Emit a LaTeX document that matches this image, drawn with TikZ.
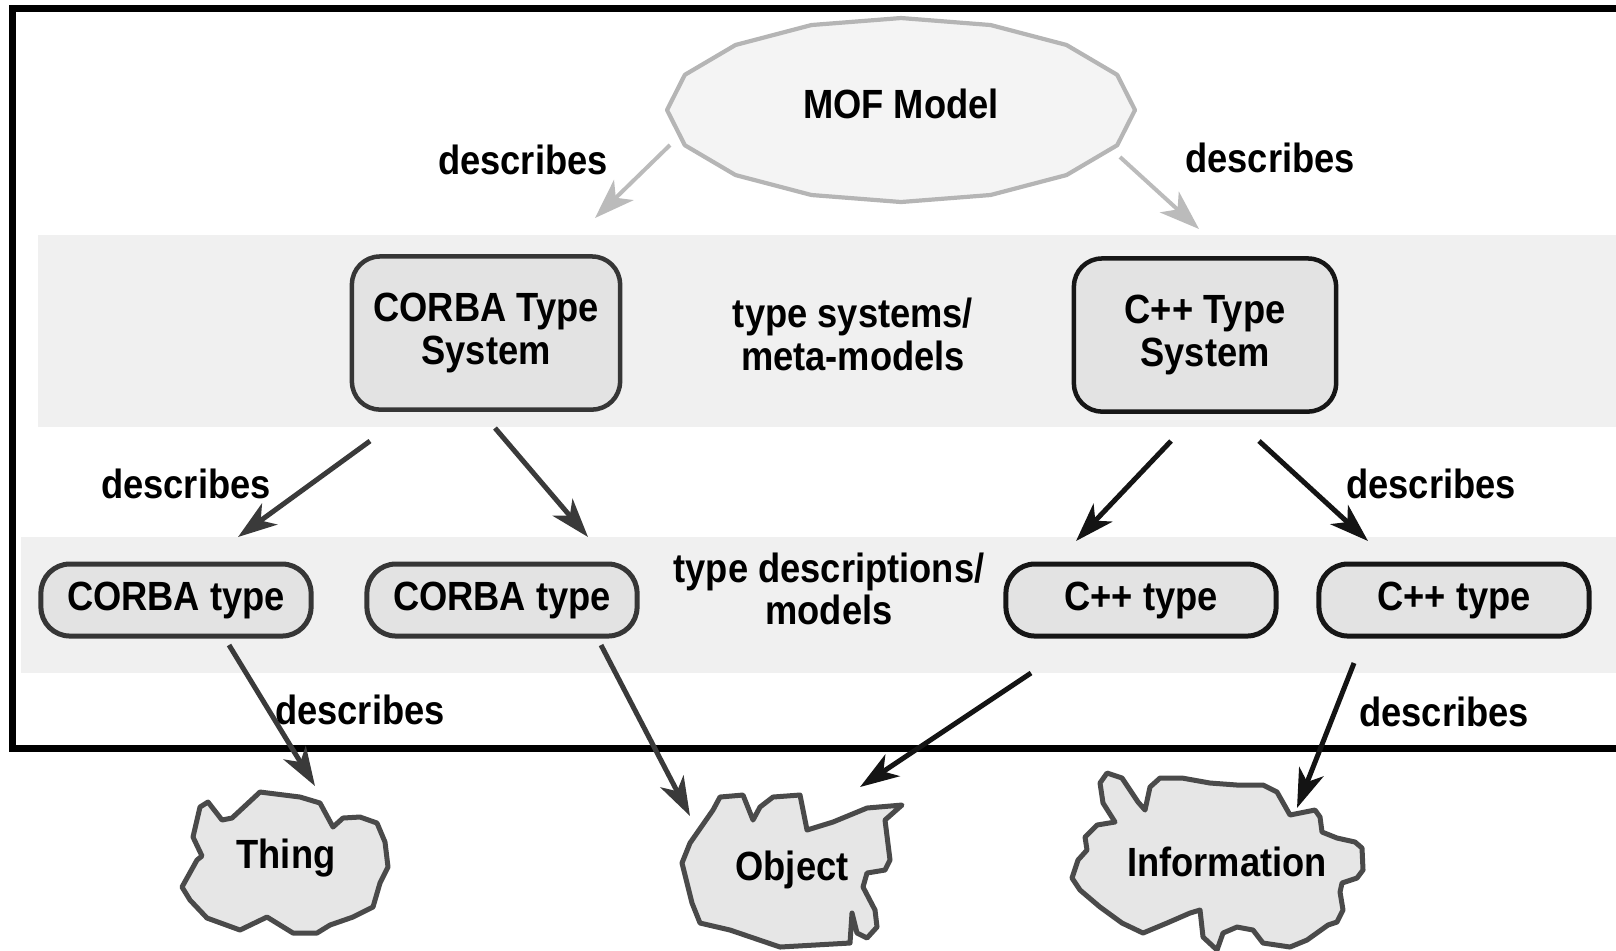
\documentclass[tikz,border=0pt]{standalone}
\usepackage{fontspec}
\newfontfamily\dfont{Liberation Sans}[FakeStretch=0.89]
\usetikzlibrary{arrows.meta,calc}

\definecolor{bandgray}{HTML}{F0F0F0}
\definecolor{mofgray}{HTML}{F4F4F4}
\definecolor{mofline}{HTML}{B5B5B5}
\definecolor{metaarrow}{HTML}{BBBBBB}
\definecolor{boxfill}{HTML}{E3E3E3}
\definecolor{corbaline}{HTML}{363636}
\definecolor{cppline}{HTML}{161616}
\definecolor{corbaarrow}{HTML}{3A3A3A}
\definecolor{cpparrow}{HTML}{141414}
\definecolor{cloudline}{HTML}{4A4A4A}
\definecolor{cloudfill}{HTML}{E6E6E6}

\begin{document}
\begin{tikzpicture}[x=0.01cm,y=-0.01cm,
  lbl/.style={font=\dfont\bfseries\fontsize{11.6}{12.2}\selectfont,
              inner sep=0pt, align=center, text=black},
  typesys/.style={lbl, rectangle, rounded corners=2.8mm,
              minimum height=1.53cm, line width=0.45mm, fill=boxfill},
  pill/.style={lbl, rectangle, rounded corners=2.9mm,
              minimum width=2.7cm, minimum height=0.72cm,
              line width=0.5mm, fill=boxfill},
  cloud/.style={draw=cloudline, fill=cloudfill, line width=0.5mm,
              line join=round},
  metaarr/.style={draw=metaarrow, line width=0.4mm,
              -{Stealth[length=4mm,width=2.8mm,inset=1.1mm]}},
  arr/.style={line width=0.5mm,
              -{Stealth[length=3.9mm,width=2.6mm,inset=1.1mm]}},
  corba/.style={arr, draw=corbaarrow, color=corbaarrow},
  cpp/.style={arr, draw=cpparrow, color=cpparrow}
]
\clip (0,0) rectangle (1616,950);

% layer bands
\fill[bandgray] (38,235) rectangle (1640,427);
\fill[bandgray] (21,537) rectangle (1640,673);

% enclosing frame (open to the right)
\draw[line width=0.7mm] (1660,8.5) -- (12.5,8.5) -- (12.5,748.5) -- (1660,748.5);

% MOF model
\draw[draw=mofline, fill=mofgray, line width=0.42mm, line join=round]
  plot[samples=17, domain=0:360] ({901+234*cos(\x)},{110+92*sin(\x)}) -- cycle;
\node[lbl] (mof) at (901,104) {MOF Model};

% type systems
\node[typesys, draw=corbaline, minimum width=2.68cm] (cts) at (486,333) {CORBA Type\\System};
\node[typesys, draw=cppline, minimum width=2.62cm] (cpts) at (1205,335) {C++ Type\\System};
\node[lbl] (tsys) at (853,334) {type systems/\\meta-models};

% type descriptions
\node[pill, draw=corbaline] (ct1) at (176,600) {CORBA type};
\node[pill, draw=corbaline] (ct2) at (502,600) {CORBA type};
\node[pill, draw=cppline] (cp1) at (1141,600) {C++ type};
\node[pill, draw=cppline] (cp2) at (1454,600) {C++ type};
\node[lbl, font=\dfont\bfseries\fontsize{11.6}{10.5}\selectfont]
  (tdesc) at (829,589) {type descriptions/\\models};

% real-world clouds
\draw[cloud] (208,802) -- (222,820) -- (232,818) -- (260,792) -- (300,797)
  -- (320,803) -- (333,827) -- (343,818) -- (360,817) -- (377,823)
  -- (385,842) -- (388,867) -- (380,883) -- (373,907) -- (353,917)
  -- (330,925) -- (317,933) -- (293,933) -- (267,917) -- (240,930)
  -- (207,918) -- (190,900) -- (182,887) -- (197,860) -- (202,856)
  -- (193,837) -- (200,807) -- cycle;
\node[lbl] (thing) at (286,858) {Thing};

\draw[cloud] (690,843) -- (713,810) -- (720,797) -- (743,795) -- (753,820)
  -- (760,807) -- (773,797) -- (800,795) -- (807,830) -- (833,822)
  -- (867,808) -- (902,805) -- (885,820) -- (890,860) -- (885,870)
  -- (867,873) -- (863,887) -- (875,910) -- (877,927) -- (867,938)
  -- (857,933) -- (852,913) -- (850,943) -- (780,947) -- (730,930)
  -- (700,923) -- (692,903) -- (682,863) -- cycle;
\node[lbl] (object) at (792,870) {Object};

\draw[cloud] (1107,773) -- (1122,778) -- (1138,802) -- (1145,810) -- (1150,787)
  -- (1160,778) -- (1182,778) -- (1210,783) -- (1237,785) -- (1263,785)
  -- (1277,792) -- (1290,815) -- (1300,813) -- (1315,810) -- (1320,817)
  -- (1322,832) -- (1337,838) -- (1355,842) -- (1362,848) -- (1363,870)
  -- (1357,878) -- (1342,883) -- (1340,892) -- (1343,910) -- (1337,922)
  -- (1328,925) -- (1307,940) -- (1290,947) -- (1263,943) -- (1253,930)
  -- (1237,927) -- (1223,933) -- (1217,950) -- (1203,937) -- (1200,910)
  -- (1190,913) -- (1167,923) -- (1143,933) -- (1122,923) -- (1100,907)
  -- (1080,890) -- (1072,878) -- (1078,860) -- (1087,850) -- (1085,837)
  -- (1097,825) -- (1115,822) -- (1103,803) -- (1100,783) -- cycle;
\node[lbl] (info) at (1227,862) {Information};

% MOF describes the type systems
\draw[metaarr] ($(mof)+(-231,41)$) -- ($(cts)+(109,-115)$);
\draw[metaarr] ($(mof)+(219,53)$) -- ($(cpts)+(-6,-106)$);
\node[lbl] (d1) at (523,160) {describes};
\node[lbl] (d2) at (1270,158) {describes};

% type systems describe types
\draw[corba] ($(cts)+(-116,108)$) -- ($(ct1)+(62,-63)$);
\draw[corba] ($(cts)+(9,95)$) -- ($(ct2)+(86,-63)$);
\draw[cpp] ($(cpts)+(-34,106)$) -- ($(cp1)+(-65,-59)$);
\draw[cpp] ($(cpts)+(54,106)$) -- ($(cp2)+(-86,-59)$);
\node[lbl] (d3) at (186,484) {describes};
\node[lbl] (d4) at (1431,484) {describes};

% types describe real-world things
\draw[corba] ($(ct1)+(53,45)$) -- ($(thing)+(29,-72)$);
\draw[corba] ($(ct2)+(99,45)$) -- ($(object)+(-102,-54)$);
\draw[cpp] ($(cp1)+(-110,73)$) -- ($(object)+(68,-83)$);
\draw[cpp] ($(cp2)+(-100,63)$) -- ($(info)+(70,-54)$);
\node[lbl] (d5) at (360,710) {describes};
\node[lbl] (d6) at (1444,712) {describes};
\end{tikzpicture}
\end{document}
